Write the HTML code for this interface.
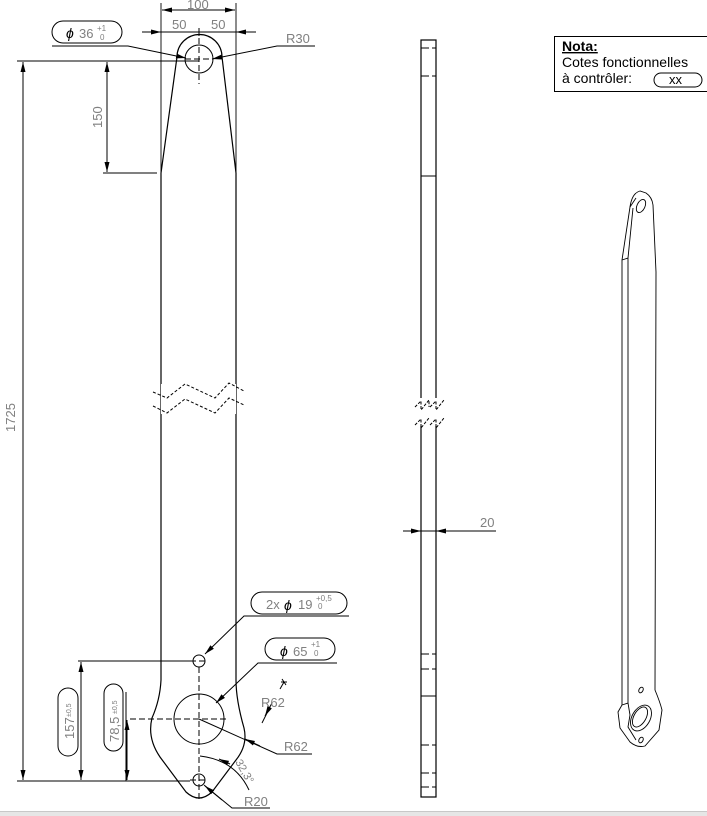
<!DOCTYPE html>
<html><head><meta charset="utf-8"><style>
body{margin:0;background:#fff;width:707px;height:816px;overflow:hidden;position:relative}
svg{position:absolute;left:0;top:0}
text{font-family:"Liberation Sans",sans-serif}
</style></head><body>
<svg width="707" height="816" viewBox="0 0 707 816">
<defs><marker id="a" markerWidth="10" markerHeight="6" refX="10" refY="3" orient="auto" markerUnits="userSpaceOnUse"><path d="M0,0.5 L10,3 L0,5.5z" fill="#000"/></marker></defs>
<g stroke="#000" stroke-width="1" fill="none">
<path d="M177,57 A22,22 0 0 1 222,57 L236,173 L236,680 Q236,700 244,728 Q248,745 236,760 L212,792 Q199,804 186,792 L160,757 Q147,738 152,718 Q160,700 161,680 L161,173 Z" stroke-width="1.2"/>
<circle cx="199" cy="59" r="14"/>
<circle cx="199" cy="719" r="25"/>
<circle cx="199" cy="661" r="6"/>
<circle cx="199" cy="780" r="6"/>
<path d="M199,38 V84 M185,59 H213" stroke-dasharray="6,3"/>
<path d="M199,667 V800 M130,719 H226 M190,661 H208 M190,780 H208" stroke-dasharray="6,3"/>
<rect x="161" y="384" width="75" height="30" fill="#fff" stroke="none"/>
<path d="M153,392 L167,398 L185,384 L215,398 L229,383 L244,391 M153,406 L167,413 L185,399 L215,413 L229,398 L244,405" stroke-dasharray="3,2"/>
<path d="M161,3 V173 M236,3 V173" stroke-width="0.9"/>
<path d="M199,10 L162,10" marker-end="url(#a)"/><path d="M199,10 L235,10" marker-end="url(#a)"/>
<path d="M142,32 L161,32" marker-end="url(#a)"/><path d="M256,32 L236,32" marker-end="url(#a)"/>
<path d="M161,32 H236 M199,28 V36"/>
<path d="M52,46 H128 L186,58" marker-end="url(#a)"/>
<path d="M315,46 H277 L212,59" marker-end="url(#a)"/>
<rect x="52" y="21" width="70" height="22" rx="11"/>
<path d="M17,61 H199 M103,173 H157"/>
<path d="M23,420 L23,62" marker-end="url(#a)"/><path d="M23,420 L23,780" marker-end="url(#a)"/>
<path d="M107,115 L107,62" marker-end="url(#a)"/><path d="M107,115 L107,172" marker-end="url(#a)"/>
<path d="M17,781 H190 M78,661 H190"/>
<path d="M81,720 L81,662" marker-end="url(#a)"/><path d="M81,720 L81,780" marker-end="url(#a)"/>
<path d="M127,750 L127,720" marker-end="url(#a)"/><path d="M127,750 L127,780" marker-end="url(#a)"/>
<path d="M126,692 V781"/>
<rect x="58" y="688" width="20" height="68" rx="10"/>
<rect x="104" y="684" width="19" height="67" rx="9.5"/>
<rect x="251" y="592" width="96" height="22" rx="11"/>
<path d="M349,616 H244 L205,654" marker-end="url(#a)"/>
<rect x="265" y="638" width="70" height="22" rx="11"/>
<path d="M337,663 H258 L216,703" marker-end="url(#a)"/>
<path d="M284,682 L280,689"/><path d="M268,711 L262,723"/><path d="M272,703 L265,716" marker-end="url(#a)"/><path d="M282,679 L286,685 M281,682 H287"/>
<path d="M199,719 L277,754 L312,754"/>
<path d="M260,746 L245,739" marker-end="url(#a)"/>
<path d="M270,808 H232 L204,785"/>
<path d="M222,800 L205,786" marker-end="url(#a)"/>
<path d="M200,756 Q235,760 249,790"/>
<path d="M230,764 L219,759" marker-end="url(#a)"/>
<rect x="421" y="40" width="15" height="757" stroke-width="1.2"/>
<path d="M421,48 H436 M421,76 H436 M421,654 H436 M421,669 H436 M421,745 H436 M421,773 H436 M421,787 H436" stroke-dasharray="8,3"/>
<path d="M421,176 H436 M421,696 H436"/>
<rect x="419" y="398" width="19" height="28" fill="#fff" stroke="none"/>
<path d="M415,407 L421,401 L421,410 L429,400 L429,407 M415,425 L421,419 L421,428 L429,418 M430,407 L436,401 L436,410 L444,400 M430,425 L436,419 L436,428 L444,418" stroke-dasharray="3,1.5"/>
<path d="M403,531 L421,531" marker-end="url(#a)"/><path d="M454,531 L436,531" marker-end="url(#a)"/>
<path d="M421,531 H496"/>
<rect x="554.5" y="36.5" width="160" height="55"/>
<rect x="654" y="73" width="48" height="14" rx="7"/>
<g stroke-width="0.9">
<path d="M630,207 Q632,193 640,191 L646,193 Q652,197 653,205 L656,272 L655,690 Q660,702 662,710 L659,730 L645,746 Q637,748 630,742 L620,728 L618,712 L622,705 L622,260 Z"/>
<path d="M630,207 L636,198 M622,260 L628,258 L633,208 M628,258 L628,703 L622,705 M628,703 L630,715 L628,727 L636,740"/>
<ellipse cx="641" cy="206" rx="4" ry="7" transform="rotate(25 641 206)"/>
<ellipse cx="640" cy="717" rx="6" ry="11" transform="rotate(30 640 717)"/>
<ellipse cx="641" cy="718" rx="9" ry="14" transform="rotate(30 641 718)"/>
<ellipse cx="641" cy="690" rx="2" ry="3" transform="rotate(30 641 690)"/>
<ellipse cx="641" cy="740" rx="2" ry="3" transform="rotate(30 641 740)"/>
</g>
</g>
<rect x="0" y="811" width="707" height="5" fill="#e6e6e6"/>
<rect x="0" y="811" width="707" height="1" fill="#c8c8c8"/>
<g fill="#808080" font-size="13">
<text x="187" y="9">100</text>
<text x="172" y="29">50</text>
<text x="211" y="29">50</text>
<text x="286" y="43">R30</text>
<text x="79" y="38">36</text><text x="97" y="31" font-size="8">+1</text><text x="100" y="40" font-size="8">0</text>
<text x="15" y="432" transform="rotate(-90 15 432)">1725</text>
<text x="102" y="128" transform="rotate(-90 102 128)">150</text>
<text x="74" y="739" transform="rotate(-90 74 739)">157</text><text x="71" y="717" font-size="7" transform="rotate(-90 71 717)">±0,5</text>
<text x="119" y="742" transform="rotate(-90 119 742)">78,5</text><text x="117" y="714" font-size="7" transform="rotate(-90 117 714)">±0,5</text>
<text x="266" y="609">2x</text><text x="298" y="609">19</text><text x="316" y="601" font-size="8">+0,5</text><text x="318" y="609" font-size="8">0</text>
<text x="293" y="656">65</text><text x="311" y="647" font-size="8">+1</text><text x="314" y="656" font-size="8">0</text>
<text x="261" y="707">R62</text>
<text x="284" y="751">R62</text>
<text x="244" y="806">R20</text>
<text x="235" y="762" font-size="11" transform="rotate(60 235 762)">32,3°</text>
<text x="480" y="527">20</text>
</g>
<g font-size="14" fill="#000"><text x="66" y="38" font-style="italic">ϕ</text><text x="284" y="610" font-style="italic">ϕ</text><text x="280" y="656" font-style="italic">ϕ</text></g>
<g font-size="14" fill="#000">
<text x="562" y="51" font-weight="bold" text-decoration="underline">Nota:</text>
<text x="562" y="67">Cotes fonctionnelles</text>
<text x="562" y="83">à contrôler:</text>
<text x="669" y="84" font-size="13">xx</text>
</g>
</svg>
</body></html>
